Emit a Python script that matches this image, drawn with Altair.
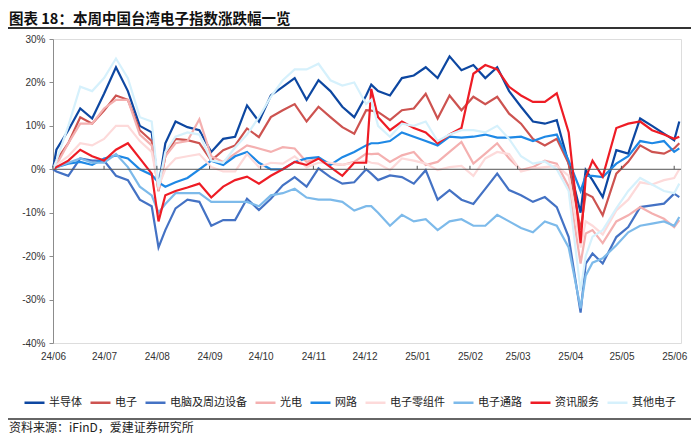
import altair as alt
import pandas as pd

dates = ["2024-06-01", "2024-06-03", "2024-06-10", "2024-06-17", "2024-06-24",
         "2024-07-01", "2024-07-08", "2024-07-15", "2024-07-22", "2024-07-29",
         "2024-08-02", "2024-08-06", "2024-08-12", "2024-08-19", "2024-08-26",
         "2024-09-02", "2024-09-09", "2024-09-16", "2024-09-23", "2024-09-30",
         "2024-10-07", "2024-10-14", "2024-10-21", "2024-10-28",
         "2024-11-04", "2024-11-11", "2024-11-18", "2024-11-25",
         "2024-12-02", "2024-12-05", "2024-12-09", "2024-12-16", "2024-12-23", "2024-12-30",
         "2025-01-06", "2025-01-13", "2025-01-20", "2025-01-27",
         "2025-02-03", "2025-02-10", "2025-02-17", "2025-02-24",
         "2025-03-03", "2025-03-10", "2025-03-17", "2025-03-24", "2025-03-31",
         "2025-04-07", "2025-04-10", "2025-04-14", "2025-04-20", "2025-04-28",
         "2025-05-05", "2025-05-12", "2025-05-19", "2025-05-26",
         "2025-06-01", "2025-06-04"]

series_names = ["半导体", "电子", "电脑及周边设备", "光电", "网路",
                "电子零组件", "电子通路", "资讯服务", "其他电子"]
colors = ["#0D47A1", "#CD5350", "#4472C4", "#F4B0B0", "#1E88E5",
          "#FDDADA", "#7DBAEA", "#EE1C25", "#D6F1FC"]

semi = [0, 4.5, 9, 14, 11.7, 17.4, 23.5, 18, 10, 8.5, -4, 6, 11, 9.7, 9, 4, 7, 7.5, 14.7, 11,
        17, 19, 21, 16, 20.5, 18, 14.4, 12, 17, 19.5, 18, 17, 21, 21.6, 23.5, 21, 26, 22.8,
        24, 21, 23.5, 18, 14.4, 11, 10.5, 11.3, 1.3, -10, -0.2, -2.5, -6.4, 4.4, 3.6, 11.7,
        10, 8.2, 6.7, 11]
elec = [0, 2, 6, 12, 10.5, 13.5, 17, 16, 9, 6.5, -5, 3, 7, 6.7, 6, 2, 4.4, 5.5, 9.4, 7.4,
        12, 13.6, 15, 11, 14.4, 12, 9.7, 8.2, 13.6, 13.5, 13.2, 11.3, 13.6, 14, 17.4, 11.7,
        17, 13.6, 16.7, 15, 16.7, 12.8, 10.5, 7, 5.5, 7, 1.3, -14, -5.6, -6.4, -10.6, -1,
        1.7, 5.5, 4, 3.6, 4.8, 6]
comp = [0, -0.5, -1.5, 2.5, 2, 2, -1.5, -2.5, -7, -8.5, -18, -14, -9, -7, -7.5, -13, -11.7,
        -11.7, -6.8, -9.4, -6.8, -3.7, -1.8, -4, 0.2, -1.8, -3.3, -3, 0, -1, -2.5, -1.4,
        -1.8, -3.3, -0.2, -7, -4.8, -7, -8, -4.5, -1, -4.8, -6, -7.5, -6.4, -8.7, -15.6,
        -33, -21.7, -19.4, -21.7, -15.6, -13.3, -8.7, -8.3, -7.9, -5.6, -6.4]
opto = [0, 1, 6, 10.5, 10.5, 14, 16, 16, 8, 5.5, -5, 3, 6, 6.5, 11.5, 3, 1.7, 3.6, 5.5, 4.8,
        4, 5.1, 4.8, 1.7, 2.5, 1.3, 1, 1.7, 3.6, 3.5, 3.6, 1.7, 3.2, 4, 1, 1.7, 4, 6.3, 1.3,
        3.6, 6, 2.5, -0.2, 0.5, 2, 1.3, -4, -21.7, -14.8, -14, -17, -12, -10.6, -8.7,
        -10.2, -11.4, -13.3, -11.7]
netw = [0, 0.5, 1.3, 1.7, 1, 2.5, 3.2, 2.5, 0, -1.3, -3, -4, -3, -2, 0, 2, 1, 3, 4, 1.5,
        0, 0, 1.7, 2.5, 2.8, 1, 2.8, 4, 5.5, 6, 6, 6.5, 8.5, 7.5, 6.5, 5.5, 7.5, 7.3, 7.5,
        8, 7.3, 7.3, 7.5, 6.5, 7.5, 8, 2, -5, -1.5, -1.5, -1.8, 1.3, 3, 6.5, 6, 6.5, 4, 4.8]
parts = [0, 1, 3, 6, 5.5, 7, 10, 10, 6.5, 4, -4, 0, 2.5, 3, 3.5, 0.5, -0.5, -0.5, 3.5, 0.5,
         1.5, 1.3, 3, 0.5, 1.5, 1.5, 1, 1.5, 2, 1.5, 1.3, -0.2, 2.5, 2, 1.3, -0.2, 0.5, 0.8,
         -1.5, 2.5, 4, 3.5, -0.5, 0.2, 0.5, 0.8, -1.5, -18, -12, -13, -15, -9.5, -7, -3,
         -3.5, -2.5, -2, 0]
dist = [0, 0.5, 1.5, 2.5, 1.5, 1.5, 3.5, 0.5, -4, -6, -10, -8, -5.5, -5.5, -5.5, -7.5, -7.5,
        -7.5, -7.5, -8.5, -6, -5.5, -4.5, -6.5, -7, -7, -7.5, -9.5, -8.5, -8.5, -10, -13,
        -10.5, -12, -11.5, -14, -12, -11.5, -13, -13, -10.5, -12, -13.5, -14.5, -12, -13,
        -18, -32, -24.5, -21.5, -20.5, -17.5, -14.5, -13, -12.5, -12, -13, -11]
info = [0, 0.5, 2, 4.5, 3, 2, 4.5, 6, 2.5, -1, -12, -6, -5, -4.2, -3.3, -6.5, -4, -2.5, -1.7,
        -3.3, -1.5, 0, 1.7, 1, 2.5, 0.5, -1.5, 1.5, 1.5, 18.5, 12, 9, 11, 9.5, 8.5, 6, 8,
        9.5, 22, 24, 23, 19, 17, 15.5, 15.5, 17.5, 8.5, -17, -2, 2, -1.7, 9.5, 10.5, 11, 9,
        8, 7, 7.5]
other = [0, 2, 10, 19, 18, 21, 25.5, 21, 12, 11, -4, 4, 7.5, 8.5, 8, 2, 1.5, 5, 8, 12, 16.7,
         20.5, 23, 23, 24.3, 20.5, 19.3, 20, 15, 16, 10, 7.5, 10.5, 10, 11, 6.5, 8, 9, 9,
         8.5, 10, 7, 3, 1.3, 1.8, 0, -5, -28, -20, -15.5, -14, -9, -5, -2, -3.5, -5, -5.5,
         -3.3]

all_values = [semi, elec, comp, opto, netw, parts, dist, info, other]

y_ticks = [-40, -30, -20, -10, 0, 10, 20, 30]
month_ticks = [(2024, m) for m in range(6, 13)] + [(2025, m) for m in range(1, 7)]

title_text = "图表 18：本周中国台湾电子指数涨跌幅一览"
source_text = "资料来源：iFinD，爱建证券研究所"

rows = []
for name, vals in zip(series_names, all_values):
    for d, v in zip(dates, vals):
        rows.append({"date": d, "series": name, "value": v})
df = pd.DataFrame(rows)

CN = "Noto Sans CJK SC"
LAT = "Liberation Sans"

month_dt = [alt.DateTime(year=y, month=m, date=1, utc=True) for y, m in month_ticks]
x_scale = alt.Scale(type="utc",
                    domain=[alt.DateTime(year=2024, month=6, date=1, utc=True),
                            alt.DateTime(year=2025, month=6, date=5, utc=True)])
y_scale = alt.Scale(domain=[-40, 30], nice=False, zero=False)

lines = alt.Chart(df).mark_line(strokeWidth=2.2).encode(
    x=alt.X("date:T", scale=x_scale,
            axis=alt.Axis(values=month_dt, format="%y/%m", domain=False, ticks=False,
                          grid=False, labelFont=LAT, labelFontSize=10, labelColor="#333",
                          labelPadding=8, labelFlush=False, labelOverlap=False, title=None)),
    y=alt.Y("value:Q", scale=y_scale,
            axis=alt.Axis(values=y_ticks, labelExpr="datum.value + '%'", grid=False,
                          domainColor="#8c8c8c", tickColor="#8c8c8c", tickSize=4,
                          labelFont=LAT, labelFontSize=10, labelColor="#333",
                          labelPadding=4, title=None)),
    color=alt.Color("series:N", scale=alt.Scale(domain=series_names, range=colors),
                    legend=alt.Legend(orient="none", legendX=-30, legendY=352,
                                      direction="horizontal", columns=9,
                                      symbolType="stroke", symbolSize=400,
                                      symbolStrokeWidth=2.5, labelFont=CN,
                                      labelFontSize=11, labelColor="#222",
                                      columnPadding=3, labelOffset=3, title=None)),
)

zero = alt.Chart(pd.DataFrame({"y": [0]})).mark_rule(color="#555", strokeWidth=1).encode(
    y=alt.Y("y:Q", scale=y_scale))

tick_df = pd.DataFrame({"date": [f"{y}-{m:02d}-01" for y, m in month_ticks],
                        "y0": [0] * len(month_ticks), "y1": [0.8] * len(month_ticks)})
ticks = alt.Chart(tick_df).mark_rule(color="#555", strokeWidth=1).encode(
    x=alt.X("date:T", scale=x_scale), y=alt.Y("y0:Q", scale=y_scale), y2="y1:Q")

title = alt.Chart(pd.DataFrame({"t": [title_text]})).mark_text(
    font=CN, fontSize=14.5, fontWeight="bold", color="#111", align="left",
    baseline="middle").encode(text="t:N", x=alt.value(-44), y=alt.value(-19.5))

title_line = alt.Chart(pd.DataFrame({"a": [0]})).mark_rule(color="#333", strokeWidth=2).encode(
    x=alt.value(-45), x2=alt.value(638), y=alt.value(-11))

src_line = alt.Chart(pd.DataFrame({"a": [0]})).mark_rule(color="#666", strokeWidth=2).encode(
    x=alt.value(-45), x2=alt.value(638), y=alt.value(380))

src = alt.Chart(pd.DataFrame({"t": [source_text]})).mark_text(
    font=CN, fontSize=12, color="#222", align="left", baseline="middle").encode(
    text="t:N", x=alt.value(-44), y=alt.value(389))

chart = alt.layer(lines, zero, ticks, title, title_line, src_line, src).properties(
    width=628, height=304,
    padding={"left": 45, "top": 31, "right": 11, "bottom": 94},
    autosize=alt.AutoSizeParams(type="none"),
).configure_view(stroke=None).configure(background="white")

chart.save("out.html", embed_options={"renderer": "svg", "actions": False})
